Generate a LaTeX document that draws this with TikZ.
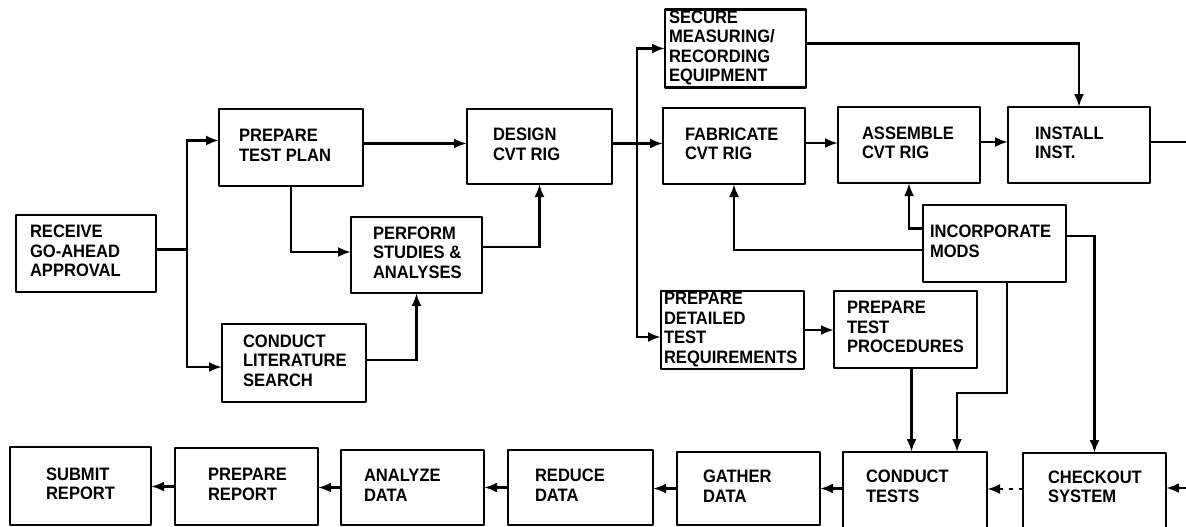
\documentclass[tikz,border=0pt]{standalone}
\usepackage{fontspec}
\setmainfont{Liberation Sans}[FakeStretch=0.92]
\usetikzlibrary{arrows.meta}
\newcommand\B[8][box]{\node[#1, minimum width={(#5-#3)*1pt}, minimum height={(#6-#4)*1pt}] (#2) at ({(#3+#5)/2},{(#4+#6)/2}) {\makebox[\dimexpr #5pt-#3pt\relax][l]{\hspace*{#7pt}\begin{tabular}{@{}l@{}}#8\end{tabular}}};}
\newcommand\closedbox[1]{\draw[boxline] (#1.south west) rectangle (#1.north east);}
\newcommand\openbox[1]{\draw[boxline] ([yshift=-40pt]#1.south west) -- (#1.north west) -- (#1.north east) -- ([yshift=-40pt]#1.south east);}
\begin{document}
\begin{tikzpicture}[x=1pt,y=-1pt,
  boxline/.style={line width=2.8pt, line join=round},
  box/.style={inner sep=0pt, outer sep=0pt, font=\fontsize{18}{19.5}\selectfont\bfseries},
  line/.style={line width=2.8pt},
  arr/.style={line, -{Latex[length=13pt,width=10pt]}},
  dashes/.style={dash pattern=on 4pt off 6pt}]
\fill[white] (0,0) rectangle (1186,527);
\useasboundingbox (0,0) rectangle (1186,527);
\clip (0,0) rectangle (1186,527);
% boxes
\B{recv}{16}{215}{156}{292}{14}{RECEIVE\\GO-AHEAD\\APPROVAL}
\B{plan}{219}{109}{363}{186}{20}{PREPARE\\TEST PLAN}
\B{perf}{351}{217}{482}{293}{22}{PERFORM\\STUDIES \&\\ANALYSES}
\B{lit}{222}{324}{366}{402}{21}{CONDUCT\\LITERATURE\\SEARCH}
\B{design}{467}{109}{612}{184}{26}{DESIGN\\CVT RIG}
\B{secure}{665}{10}{806}{87}{4}{SECURE\\MEASURING/\\RECORDING\\EQUIPMENT}
\B{fab}{663}{108}{805}{184}{22}{FABRICATE\\CVT RIG}
\B{asm}{838}{107}{980}{183}{24}{ASSEMBLE\\CVT RIG}
\B{inst}{1008}{107}{1150}{183}{27}{INSTALL\\INST.}
\B{mods}{923}{205}{1066}{282}{7}{INCORPORATE\\MODS}
\B{detl}{661}{292}{804}{368}{3}{PREPARE\\DETAILED\\TEST\\REQUIREMENTS}
\B{proc}{834}{291}{977}{368}{13}{PREPARE\\TEST\\PROCEDURES}
\B{submit}{10}{447}{151}{525}{36}{SUBMIT\\REPORT}
\B{prep}{175}{448}{318}{525}{33}{PREPARE\\REPORT}
\B{anal}{341}{450}{484}{525}{23}{ANALYZE\\DATA}
\B{reduce}{508}{450}{653}{525}{27}{REDUCE\\DATA}
\B{gather}{677}{452}{820}{525}{26}{GATHER\\DATA}
\B{conduct}{843}{452}{987}{525}{23}{CONDUCT\\TESTS}
\B{check}{1023}{453}{1166}{525}{25}{CHECKOUT\\SYSTEM}
\foreach \n in {recv,plan,perf,lit,design,secure,fab,asm,inst,mods,detl,proc,submit,prep,anal,reduce,gather}{\closedbox{\n}}
\openbox{conduct}
\openbox{check}
% junction coordinates
\coordinate (j1) at (187,0);
\coordinate (j2) at (637,0);
\coordinate (outR) at (1200,0);
\coordinate (inR) at (1200,488);
% connectors
\draw[line] ([yshift=4pt]recv.east) -- ([yshift=4pt]recv.east -| j1);
\draw[arr] ([yshift=4pt]recv.east -| j1) |- ([yshift=7pt]plan.west);
\draw[arr] ([yshift=4pt]recv.east -| j1) |- ([yshift=-4pt]lit.west);
\draw[arr] (plan.south) |- ([yshift=3pt]perf.west);
\draw[arr] ([yshift=3pt]lit.east) -| (perf.south);
\draw[arr] ([yshift=4pt]plan.east) -- ([yshift=4pt]plan.east -| design.west);
\draw[arr] ([yshift=8pt]perf.east) -| (design.south);
\draw[arr] ([yshift=3pt]design.east) -- ([yshift=3pt]design.east -| fab.west);
\draw[arr] ([yshift=3pt]design.east -| j2) |- (secure.west);
\draw[arr] ([yshift=3pt]design.east -| j2) |- ([yshift=-7pt]detl.west);
\draw[arr] ([yshift=5pt]secure.east) -| (inst.north);
\draw[arr] ([yshift=3pt]fab.east) -- ([yshift=3pt]fab.east -| asm.west);
\draw[arr] ([yshift=3pt]asm.east) -- ([yshift=3pt]asm.east -| inst.west);
\draw[line] ([yshift=3pt]inst.east) -- ([yshift=3pt]inst.east -| outR);
\draw[arr] ([yshift=15pt]mods.west) -| (asm.south);
\draw[arr] ([yshift=-6.5pt]mods.west) -| (fab.south);
\draw[arr] (detl.east) -- (detl.east -| proc.west);
\draw[arr] ([xshift=6pt]proc.south) -- ([xshift=6pt]proc.south |- conduct.north);
\draw[arr] ([xshift=12.5pt]mods.south) -- ++(0,111) -| ([xshift=42pt]conduct.north);
\draw[arr] ([yshift=7.5pt]mods.east) -| (check.north);
\draw[arr] (inR) -- (inR -| check.east);
\draw[arr, dashes] (check.west) -- (check.west -| conduct.east);
\draw[arr] (conduct.west) -- (conduct.west -| gather.east);
\draw[arr] (gather.west) -- (gather.west -| reduce.east);
\draw[arr] (reduce.west) -- (reduce.west -| anal.east);
\draw[arr] (anal.west) -- (anal.west -| prep.east);
\draw[arr] (prep.west) -- (prep.west -| submit.east);
\end{tikzpicture}
\end{document}
